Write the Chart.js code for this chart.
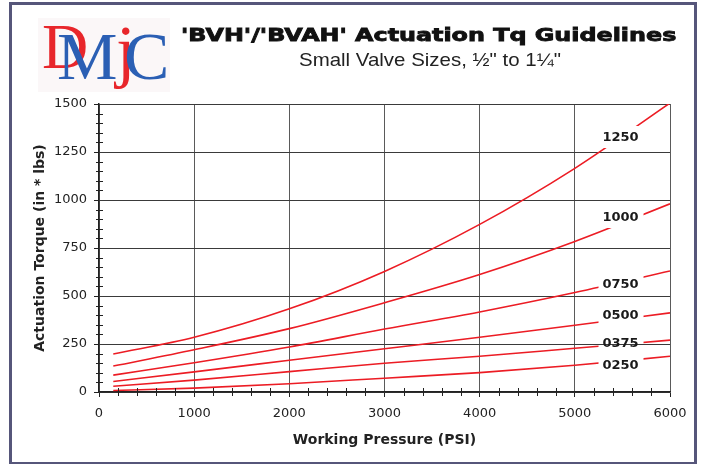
<!DOCTYPE html>
<html>
<head>
<meta charset="utf-8">
<script src="https://cdn.jsdelivr.net/npm/chart.js@4"></script>
<style>
  html, body { margin: 0; padding: 0; background: #fff; }
  #page { position: relative; width: 703px; height: 464px; overflow: hidden; }
  #frame { position: absolute; left: 9px; top: 2px; width: 688px; height: 463px;
           box-sizing: border-box; border: 3px solid #56567a; }
  #chart { position: absolute; left: 0; top: 0; }
  .t { position: absolute; white-space: nowrap; line-height: 1; transform-origin: 0 0; color: #111; }
  #title { left: 181px; top: 25px; font: bold 17px "DejaVu Sans", sans-serif; -webkit-text-stroke: 0.8px #111; }
  #subtitle { left: 299px; top: 49px; font: 18.5px "Liberation Sans Narrow", "Liberation Sans", sans-serif; color: #222; }
  #logo { position: absolute; left: 38px; top: 18px; width: 132px; height: 74px; background: #fbf7f8; filter: blur(0.7px); }
  #logo span { position: absolute; font-family: "Liberation Serif", "DejaVu Serif", serif; line-height: 1; }
</style>
</head>
<body>
<div id="page">
  <div id="frame"></div>
  <div id="logo">
    <span style="left:4px; top:-3px; font-size:64px; color:#e8262b;">D</span>
    <span style="left:19px; top:4px; font-size:68px; color:#2b5fb4;">M</span>
    <span style="left:78px; top:-2px; font-size:70px; color:#e8262b;">j</span>
    <span style="left:86px; top:4px; font-size:68px; color:#2b5fb4;">C</span>
  </div>
  <div id="title" class="t">'BVH'/'BVAH' Actuation Tq Guidelines</div>
  <div id="subtitle" class="t">Small Valve Sizes, ½" to 1¼"</div>
  <canvas id="chart" width="703" height="464"></canvas>
</div>
<script>
// working pressure (psi) where each curve was read
const pressure = [150, 1000, 2000, 3000, 4000, 5000, 6000];

// actuation torque (in*lbs) per valve size
const tq0250 = [8, 20, 43, 72, 101, 139, 186];
const tq0375 = [30, 62, 106, 150, 186, 228, 270];
const tq0500 = [55, 105, 165, 225, 285, 348, 412];
const tq0750 = [88, 152, 234, 328, 417, 518, 630];
const tq1000 = [135, 220, 330, 465, 612, 784, 980];
const tq1250 = [198, 285, 433, 628, 873, 1165, 1505];

const sizeNames = ["0250", "0375", "0500", "0750", "1000", "1250"];
// where the size labels sit (psi, in*lbs)
const labelPsi = 5480;
const labelTq = [141, 255, 401, 562, 911, 1328];

const xTicks = [0, 1000, 2000, 3000, 4000, 5000, 6000];
const yTicks = [0, 250, 500, 750, 1000, 1250, 1500];

// fit the heading texts to the widths in the picture
function fitWidth(id, w) {
  const el = document.getElementById(id);
  el.style.transform = "scaleX(" + (w / el.offsetWidth) + ")";
}
fitWidth("title", 496);
fitWidth("subtitle", 262);

const RED = "#ec1c24";
const series = [tq0250, tq0375, tq0500, tq0750, tq1000, tq1250];

const datasets = series.map((vals, i) => ({
  label: sizeNames[i],
  data: pressure.map((p, j) => ({ x: p, y: vals[j] })),
  borderColor: RED,
  borderWidth: 1.6,
  pointRadius: 0,
  fill: false,
  cubicInterpolationMode: "monotone",
}));

// boxes round the size labels, the curves are cut there
function labelBoxes(chart) {
  const xs = chart.scales.x, ys = chart.scales.y;
  const cx = xs.getPixelForValue(labelPsi);
  return labelTq.map((v) => {
    const cy = ys.getPixelForValue(v);
    return { cx: cx, cy: cy, x: cx - 22, y: cy - 11, w: 45, h: 22 };
  });
}

const sizeLabelPlugin = {
  id: "sizeLabels",
  beforeDatasetsDraw(chart) {
    const ctx = chart.ctx;
    ctx.save();
    ctx.beginPath();
    ctx.rect(0, 0, chart.width, chart.height);
    labelBoxes(chart).forEach((b) => ctx.rect(b.x, b.y, b.w, b.h));
    ctx.clip("evenodd");
  },
  afterDatasetsDraw(chart) {
    const ctx = chart.ctx;
    ctx.restore();
    ctx.save();
    ctx.font = "bold 13px 'DejaVu Sans', sans-serif";
    ctx.fillStyle = "#1a1a1a";
    ctx.textAlign = "center";
    ctx.textBaseline = "middle";
    labelBoxes(chart).forEach((b, i) => ctx.fillText(sizeNames[i], b.cx, b.cy + 1));
    ctx.restore();
  },
};

// small ticks between the numbered ones
const minorTickPlugin = {
  id: "minorTicks",
  afterDraw(chart) {
    const ctx = chart.ctx, xs = chart.scales.x, ys = chart.scales.y;
    const a = chart.chartArea;
    ctx.save();
    ctx.strokeStyle = "#222";
    ctx.lineWidth = 1;
    ctx.beginPath();
    for (let v = 50; v < 1500; v += 50) {
      if (v % 250 === 0) continue;
      const y = Math.round(ys.getPixelForValue(v)) + 0.5;
      ctx.moveTo(a.left - 3, y);
      ctx.lineTo(a.left + 4, y);
    }
    for (let v = 200; v < 6000; v += 200) {
      if (v % 1000 === 0) continue;
      const x = Math.round(xs.getPixelForValue(v)) + 0.5;
      ctx.moveTo(x, a.bottom - 4);
      ctx.lineTo(x, a.bottom + 4);
    }
    ctx.stroke();
    ctx.restore();
  },
};

const tickFont = { family: "'DejaVu Sans', sans-serif", size: 13 };
const titleFont = { family: "'DejaVu Sans', sans-serif", size: 14, weight: "bold" };

new Chart(document.getElementById("chart"), {
  type: "line",
  data: { datasets: datasets },
  options: {
    responsive: false,
    animation: false,
    events: [],
    layout: { padding: { left: 0, right: 33, top: 104, bottom: 0 } },
    plugins: { legend: { display: false }, tooltip: { enabled: false } },
    scales: {
      x: {
        type: "linear",
        min: 0,
        max: 6000,
        afterBuildTicks: (s) => { s.ticks = xTicks.map((v) => ({ value: v })); },
        afterFit: (s) => { s.height = 72; },
        ticks: { font: tickFont, color: "#222", padding: 9, callback: (v) => String(v) },
        grid: { color: "#5a5a5a", lineWidth: 1, tickLength: 5, tickColor: "#222" },
        border: { color: "#222", width: 1.5 },
        title: { display: true, text: "Working Pressure (PSI)", font: titleFont, color: "#222", padding: { top: 0, bottom: 15 } },
      },
      y: {
        min: 0,
        max: 1500,
        afterBuildTicks: (s) => { s.ticks = yTicks.map((v) => ({ value: v })); },
        afterFit: (s) => { s.width = 99; },
        ticks: { font: tickFont, color: "#222", padding: 7, callback: (v) => String(v) },
        grid: { color: "#3a3a3a", lineWidth: 1, tickLength: 5, tickColor: "#222" },
        border: { color: "#222", width: 1.5 },
        title: { display: true, text: "Actuation Torque (in * lbs)", font: titleFont, color: "#222", padding: { top: 32, bottom: 0 } },
      },
    },
  },
  plugins: [sizeLabelPlugin, minorTickPlugin],
});
</script>
</body>
</html>
